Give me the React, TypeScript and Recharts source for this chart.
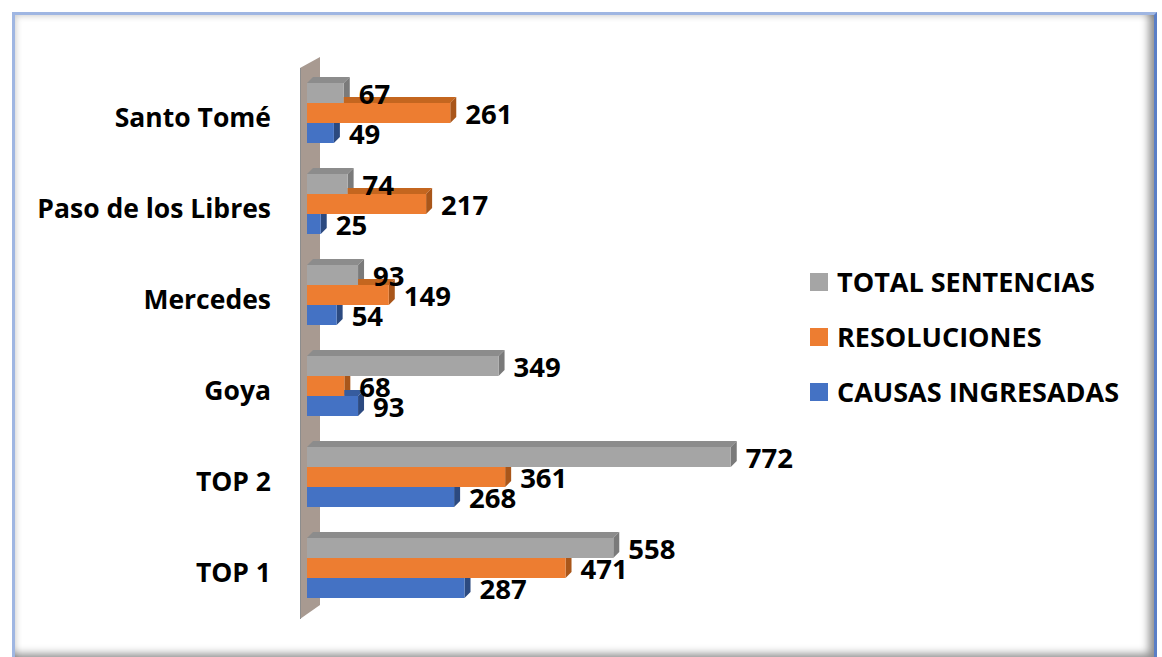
import React from "react";
import { BarChart, Bar, XAxis, YAxis, Legend, LabelList } from "recharts";

const categories = ["Santo Tomé", "Paso de los Libres", "Mercedes", "Goya", "TOP 2", "TOP 1"];
const totalSentencias = [67, 74, 93, 349, 772, 558];
const resoluciones = [261, 217, 149, 68, 361, 471];
const causasIngresadas = [49, 25, 54, 93, 268, 287];

const FONT = "'Open Sans', Lato, sans-serif";
const DEPTH = 6;

type Series = {
  key: string;
  name: string;
  front: string;
  top: string;
  side: string;
  above: string | null;
};

const SERIES: Series[] = [
  { key: "total", name: "TOTAL SENTENCIAS", front: "#a5a5a5", top: "#8c8c8c", side: "#7a7a7a", above: null },
  { key: "res", name: "RESOLUCIONES", front: "#ed7d31", top: "#c4661f", side: "#a9561a", above: "total" },
  { key: "causas", name: "CAUSAS INGRESADAS", front: "#4472c4", top: "#365c9e", side: "#2c4a80", above: "res" },
];

const data = categories.map((name, i) => ({
  name,
  total: totalSentencias[i],
  res: resoluciones[i],
  causas: causasIngresadas[i],
}));

// 3D-looking bar: front face + top face + right side face.
// the bar above in the same group hides part of our top face, so clip it by its width
function make3DShape(s: Series) {
  return (props: any) => {
    const x = Number(props.x);
    const y = Number(props.y);
    const w = Number(props.width);
    const h = Number(props.height);
    const payload = props.payload || {};
    const v = payload[s.key];
    const wa = s.above && v ? (w * payload[s.above]) / v : 0;
    const d = DEPTH;

    let topPts = "";
    if (wa < w) {
      const xs = x + Math.max(wa, 0);
      topPts = `${xs},${y} ${x + w},${y} ${x + w + d},${y - d} ${Math.max(xs, x + d)},${y - d}`;
    }
    const sidePts =
      wa >= w + d
        ? `${x + w},${y} ${x + w + d},${y} ${x + w + d},${y + h - d} ${x + w},${y + h}`
        : `${x + w},${y} ${x + w + d},${y - d} ${x + w + d},${y + h - d} ${x + w},${y + h}`;

    return (
      <g>
        {topPts && <polygon points={topPts} fill={s.top} />}
        <polygon points={sidePts} fill={s.side} />
        <rect x={x} y={y} width={w} height={h} fill={s.front} />
      </g>
    );
  };
}

const renderValue = (props: any) => {
  const { x, y, width, height, value } = props;
  return (
    <text
      x={Number(x) + Number(width) + 15}
      y={Number(y) + Number(height) / 2}
      dominantBaseline="central"
      fontFamily={FONT}
      fontSize={27.5}
      fontWeight={700}
      fill="#000"
    >
      {value}
    </text>
  );
};

const CategoryTick = (props: any) => {
  const { x, y, payload } = props;
  return (
    <text
      x={Number(x) - 36}
      y={Number(y) + 4}
      textAnchor="end"
      dominantBaseline="central"
      fontFamily={FONT}
      fontSize={26.5}
      fontWeight={700}
      fill="#000"
    >
      {payload.value}
    </text>
  );
};

const LegendBox = () => (
  <div style={{ fontFamily: FONT }}>
    {SERIES.map((s) => (
      <div key={s.key} style={{ display: "flex", alignItems: "center", height: 55 }}>
        <span style={{ width: 18, height: 18, background: s.front, marginRight: 9, flex: "none" }} />
        <span style={{ fontSize: 27, fontWeight: 700, color: "#000", whiteSpace: "nowrap" }}>{s.name}</span>
      </div>
    ))}
  </div>
);

export default function App() {
  return (
    <div style={{ position: "absolute", left: 0, top: 0, width: 1162, height: 657, background: "#fff", overflow: "hidden" }}>
      <div
        style={{
          position: "absolute",
          left: 12,
          top: 12,
          width: 1139,
          height: 642,
          borderStyle: "solid",
          borderWidth: 3,
          borderColor: "#9fb6e2 #5a7ec6 #5a7ec6 #9fb6e2",
          boxShadow: "inset -10px -8px 8px -5px rgba(0,0,0,0.45), inset 4px 4px 6px -3px rgba(0,0,0,0.2)",
          background: "#fff",
        }}
      />
      {/* back wall of the 3D chart */}
      <svg width={1162} height={657} style={{ position: "absolute", left: 0, top: 0 }}>
        <polygon points="300,68 320,57 320,605 300,619" fill="#a89a91" />
        <line x1={300.5} y1={68} x2={300.5} y2={619} stroke="#8d8d8d" strokeWidth={1} />
      </svg>
      <div style={{ position: "absolute", left: 0, top: 0 }}>
        <BarChart
          width={1162}
          height={657}
          data={data}
          layout="vertical"
          margin={{ top: 67, right: 361, bottom: 44, left: 0 }}
          barSize={20}
          barGap={0}
        >
          <XAxis type="number" domain={[0, 900]} hide />
          <YAxis
            type="category"
            dataKey="name"
            width={307}
            axisLine={false}
            tickLine={false}
            tickSize={0}
            tickMargin={0}
            tick={<CategoryTick />}
            interval={0}
          />
          <Legend
            layout="vertical"
            align="center"
            verticalAlign="middle"
            wrapperStyle={{ left: 810, top: 254, width: 345 }}
            content={<LegendBox />}
          />
          {SERIES.map((s) => (
            <Bar
              key={s.key}
              dataKey={s.key}
              name={s.name}
              fill={s.front}
              shape={make3DShape(s)}
              isAnimationActive={false}
            >
              <LabelList dataKey={s.key} content={renderValue} />
            </Bar>
          ))}
        </BarChart>
      </div>
    </div>
  );
}
